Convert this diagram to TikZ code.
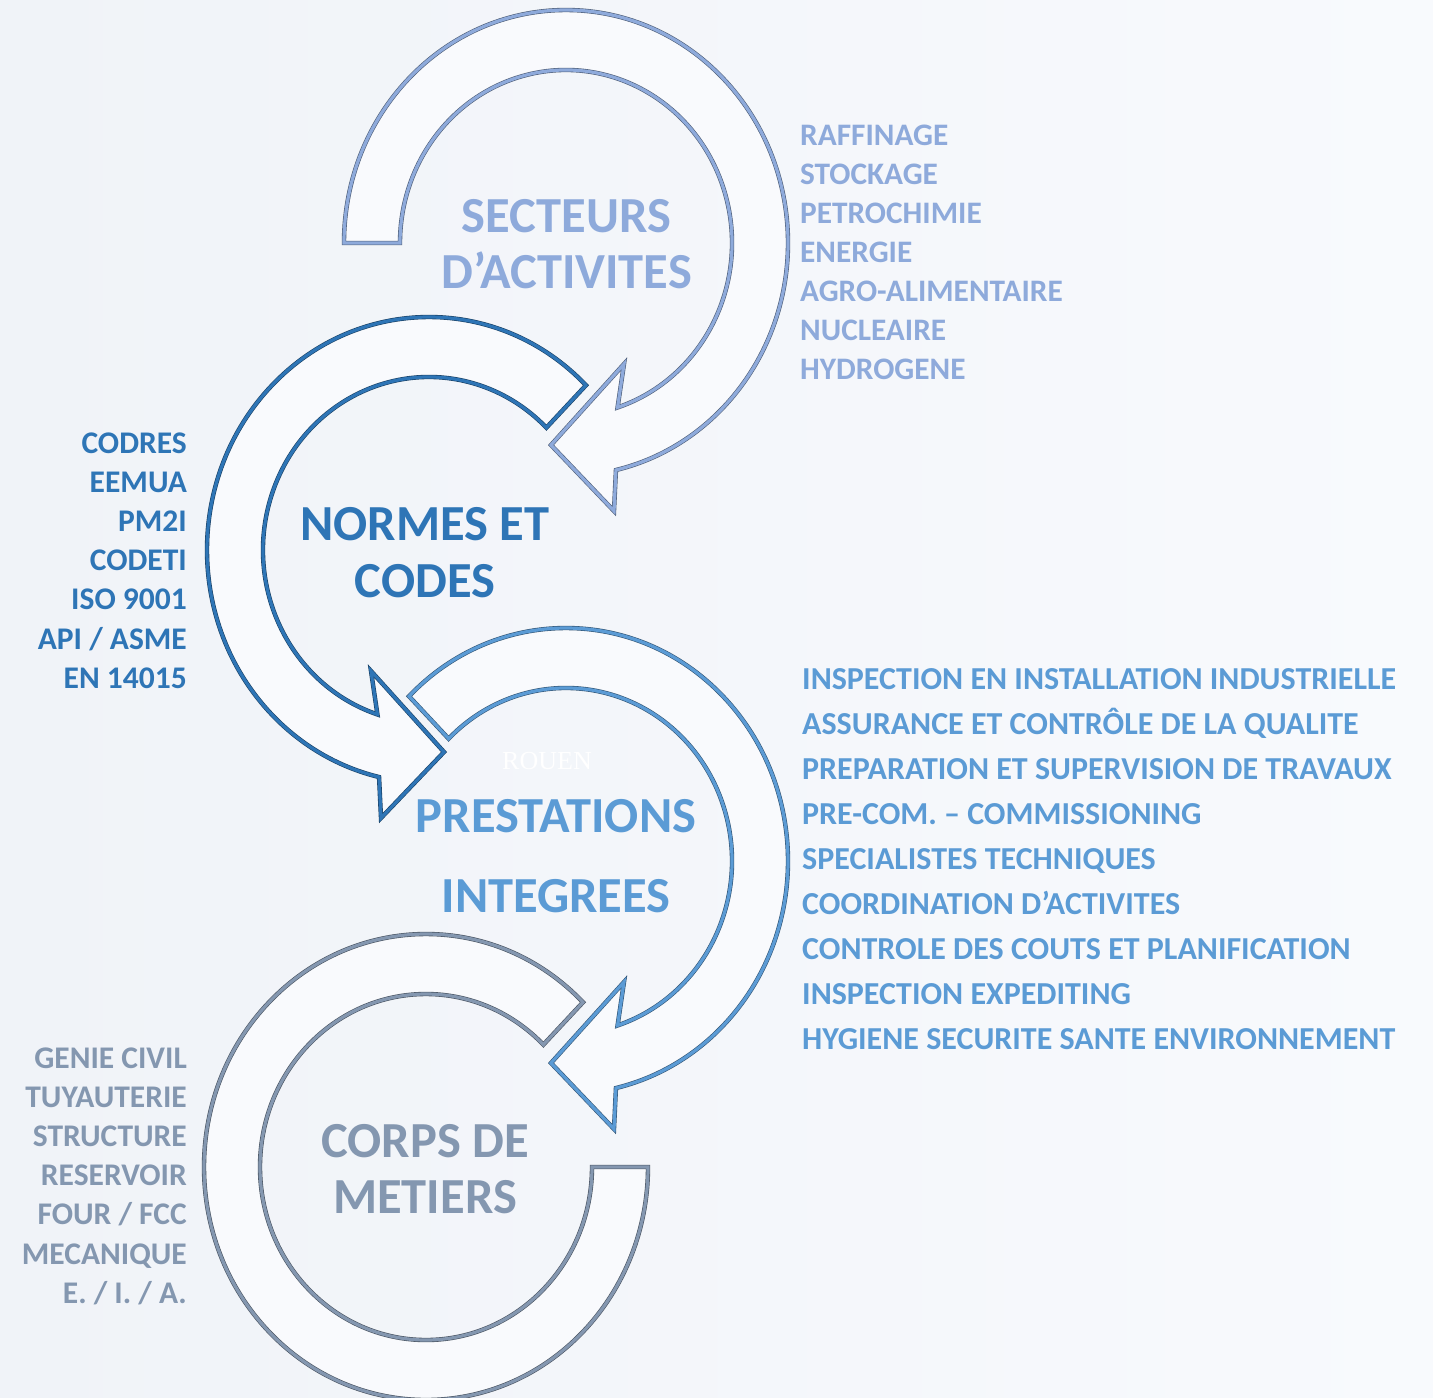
\documentclass[tikz,border=0pt]{standalone}
\usepackage{fontspec}
\setmainfont{Carlito}
\newfontfamily\wmfont{Liberation Serif}
\usetikzlibrary{calc}
\definecolor{cA}{HTML}{8EAADB}
\definecolor{cB}{HTML}{2E75B6}
\definecolor{cC}{HTML}{5B9BD5}
\definecolor{cD}{HTML}{8497B0}
\definecolor{bgL}{HTML}{F0F3F8}
\definecolor{bgR}{HTML}{F8FAFD}
\definecolor{arrowfill}{HTML}{F9FAFD}
\begin{document}
\begin{tikzpicture}[x=1pt,y=-1pt,
  arrowshape/.style={draw=#1!55!black, double=#1, double distance=3.2pt, line width=0.6pt, fill=arrowfill, line join=miter},
  title/.style={text=#1, font=\bfseries\fontsize{50.5}{50.5}\selectfont, anchor=base, inner sep=0pt},
  itemleft/.style={text=#1, font=\bfseries\fontsize{31.3}{31.3}\selectfont, anchor=base west, inner sep=0pt},
  itemwide/.style={text=#1, font=\bfseries\fontsize{32}{32}\selectfont, anchor=base west, inner sep=0pt},
  itemright/.style={text=#1, font=\bfseries\fontsize{31.5}{31.5}\selectfont, anchor=base east, inner sep=0pt}]
\fill[left color=bgL, right color=bgR] (0,0) rectangle (1433,1398);
\useasboundingbox (0,0) rectangle (1433,1398);

\coordinate (c1) at (566,243);
\coordinate (c2) at (429,550);
\coordinate (c3) at (566,861);
\coordinate (c4) at (426,1167);

% arrow 1 : secteurs
\draw[arrowshape=cA] ($(c1)+(180:222 and 233)$) arc[start angle=180, end angle=437, x radius=222, y radius=233]
  -- ($(c1)+(48,268)$) -- ($(c1)+(-15,202)$) -- ($(c1)+(58,121)$)
  -- ($(c1)+(431.9:166 and 173)$) arc[start angle=431.9, end angle=180, x radius=166, y radius=173] -- cycle;
% arrow 2 : normes
\draw[arrowshape=cB] ($(c2)+(-45:222 and 233)$) arc[start angle=-45, end angle=-257, x radius=222, y radius=233]
  -- ($(c2)+(-48,268)$) -- ($(c2)+(15,202)$) -- ($(c2)+(-58,121)$)
  -- ($(c2)+(-251.9:166 and 173)$) arc[start angle=-251.9, end angle=-45, x radius=166, y radius=173] -- cycle;
% arrow 3 : prestations
\draw[arrowshape=cC] ($(c3)+(225:222 and 233)$) arc[start angle=225, end angle=437, x radius=222, y radius=233]
  -- ($(c3)+(48,268)$) -- ($(c3)+(-15,202)$) -- ($(c3)+(58,121)$)
  -- ($(c3)+(431.9:166 and 173)$) arc[start angle=431.9, end angle=225, x radius=166, y radius=173] -- cycle;
% arrow 4 : corps
\draw[arrowshape=cD] ($(c4)+(-45:222 and 233)$) arc[start angle=-45, end angle=-360, x radius=222, y radius=233]
  -- ($(c4)+(-360:166 and 173)$) arc[start angle=-360, end angle=-45, x radius=166, y radius=173] -- cycle;

% titles
\node[title=cA] (t1a) at (566.5,232) {SECTEURS};
\node[title=cA] (t1b) at (566.5,288) {D’ACTIVITES};
\node[title=cB] (t2a) at (425,540) {NORMES ET};
\node[title=cB] (t2b) at (425,597) {CODES};
\node[title=cC] (t3a) at (556,832) {PRESTATIONS};
\node[title=cC] (t3b) at (556,912) {INTEGREES};
\node[title=cD] (t4a) at (425,1157) {CORPS DE};
\node[title=cD] (t4b) at (425,1213) {METIERS};
\node[text=white, font=\wmfont\fontsize{26}{26}\selectfont, inner sep=0pt, anchor=base] (rouen) at (547,769) {ROUEN};

% list 1
\foreach \t [count=\i from 0] in {RAFFINAGE,STOCKAGE,PETROCHIMIE,ENERGIE,AGRO-ALIMENTAIRE,NUCLEAIRE,HYDROGENE}
  \node[itemleft=cA] (s\i) at (800,145+39*\i) {\t};
% list 2
\foreach \t [count=\i from 0] in {CODRES,EEMUA,PM2I,CODETI,ISO 9001,API / ASME,EN 14015}
  \node[itemright=cB] (n\i) at (187,453+39.2*\i) {\t};
% list 3
\foreach \t [count=\i from 0] in {INSPECTION EN INSTALLATION INDUSTRIELLE,ASSURANCE ET CONTRÔLE DE LA QUALITE,PREPARATION ET SUPERVISION DE TRAVAUX,PRE-COM. – COMMISSIONING,SPECIALISTES TECHNIQUES,COORDINATION D’ACTIVITES,CONTROLE DES COUTS ET PLANIFICATION,INSPECTION EXPEDITING,HYGIENE SECURITE SANTE ENVIRONNEMENT}
  \node[itemwide=cC] (p\i) at (802,689+45*\i) {\t};
% list 4
\foreach \t [count=\i from 0] in {GENIE CIVIL,TUYAUTERIE,STRUCTURE,RESERVOIR,FOUR / FCC,MECANIQUE,E. / I. / A.}
  \node[itemright=cD] (m\i) at (187,1068+39.2*\i) {\t};
\end{tikzpicture}
\end{document}
